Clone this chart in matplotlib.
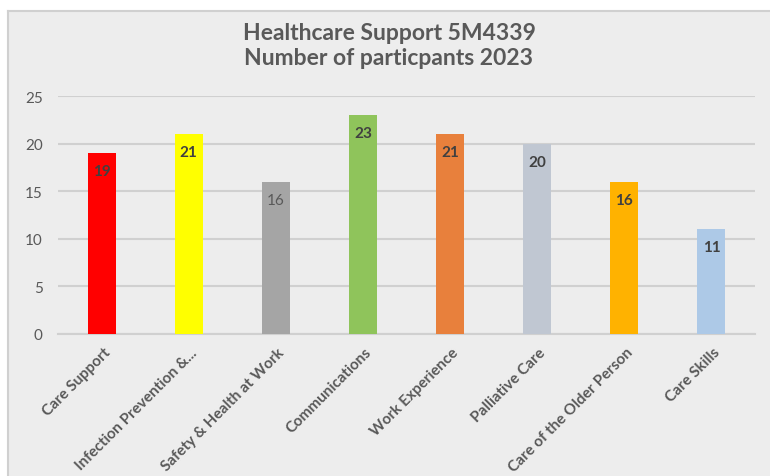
import matplotlib
matplotlib.use("Agg")
import matplotlib.pyplot as plt
from matplotlib.patches import Rectangle
from matplotlib.lines import Line2D
from matplotlib.transforms import ScaledTranslation

plt.rcParams['font.family'] = ['Lato', 'DejaVu Sans']

categories = ["Care Support", "Infection Prevention &...", "Safety & Health at Work",
              "Communications", "Work Experience", "Palliative Care",
              "Care of the Older Person", "Care Skills"]
participants = [19, 21, 16, 23, 21, 20, 16, 11]
bar_colors = ["#FF0000", "#FFFF00", "#A5A5A5", "#8FC45B", "#E8803C",
              "#C0C7D2", "#FFB200", "#ADC9E7"]
y_ticks = [0, 5, 10, 15, 20, 25]
title = "Healthcare Support 5M4339\nNumber of particpants 2023"

W, H = 770, 477
fig = plt.figure(figsize=(W / 100, H / 100), dpi=100)
fig.patch.set_facecolor("white")

# chart area background with its border on the left and top
bg_left, bg_top = 8 / W, 1 - 12 / H
fig.patches.append(Rectangle((bg_left, 0), 1 - bg_left, bg_top, transform=fig.transFigure,
                             facecolor="#EDEDED", edgecolor="none", zorder=-2))
fig.lines.append(Line2D([bg_left, bg_left], [0, bg_top], transform=fig.transFigure,
                        color="#D0D0D0", lw=1.5, zorder=-1))
fig.lines.append(Line2D([bg_left, 1], [bg_top, bg_top], transform=fig.transFigure,
                        color="#D0D0D0", lw=1.5, zorder=-1))

ax = fig.add_axes([58 / W, 1 - 335 / H, (755 - 58) / W, (335 - 97) / H])
ax.set_zorder(1)
ax.set_facecolor("none")

x = list(range(len(categories)))
bars = ax.bar(x, participants, width=0.32, color=bar_colors, zorder=3)

ax.set_xlim(-0.5, len(categories) - 0.5)
ax.set_ylim(0, 25)
ax.set_yticks(y_ticks)
ax.yaxis.grid(True, color="#D0D0D0", lw=1.5, zorder=0)
ax.set_axisbelow(True)
for side in ["left", "right", "top"]:
    ax.spines[side].set_visible(False)
ax.spines["bottom"].set_color("#D0D0D0")
ax.spines["bottom"].set_linewidth(1.5)
ax.tick_params(axis="both", length=0, colors="#595959")
ax.tick_params(axis="y", pad=11, labelsize=11)

ax.set_xticks(x)
ax.set_xticklabels(categories, rotation=45, ha="right", va="top",
                   rotation_mode="anchor", fontweight="bold", color="#595959",
                   fontsize=11)
ax.tick_params(axis="x", pad=8)
shift = ScaledTranslation(1 / 72, 0, fig.dpi_scale_trans)
for lbl in ax.get_xticklabels():
    lbl.set_transform(lbl.get_transform() + shift)

for i, (b, v) in enumerate(zip(bars, participants)):
    weight = "normal" if i == 2 else "bold"
    col = "#595959" if i == 2 else "#404040"
    ax.annotate(str(v), (b.get_x() + b.get_width() / 2, v), xytext=(0, -13),
                textcoords="offset points", ha="center", va="center",
                fontsize=11, fontweight=weight, color=col, zorder=4)

fig.text((8 + W) / 2 / W, 1 - 46 / H, title, ha="center", va="center",
         fontsize=16.5, fontweight="bold", color="#595959", linespacing=1.25)

fig.savefig("out.png", dpi=100)
